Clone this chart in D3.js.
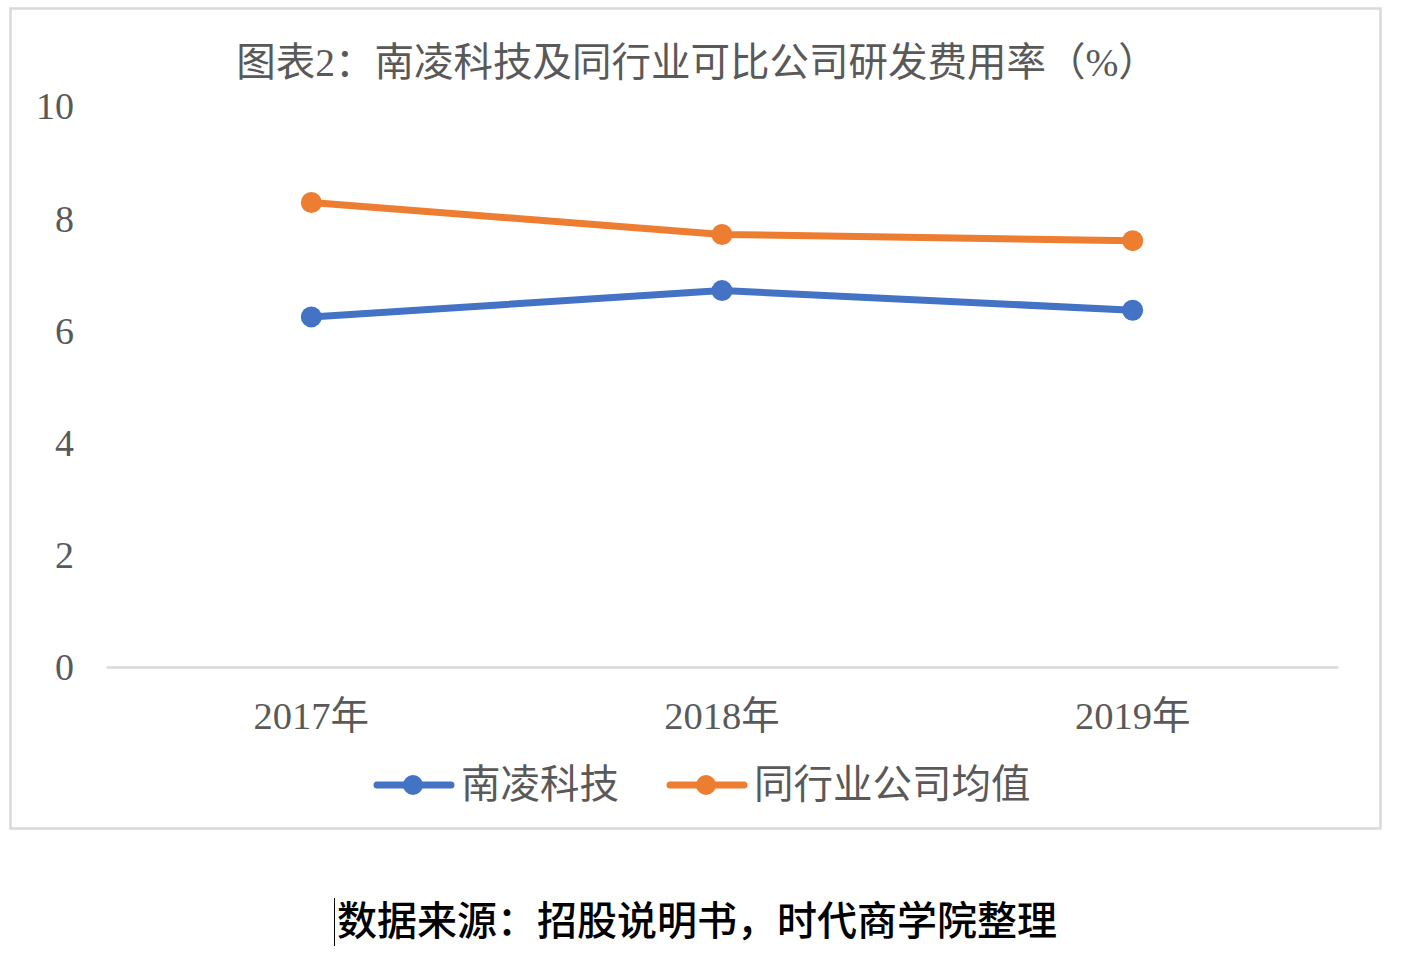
<!DOCTYPE html>
<html>
<head>
<meta charset="utf-8">
<script src="https://cdn.jsdelivr.net/npm/d3@7/dist/d3.min.js"></script>
<style>
  html, body { margin: 0; padding: 0; background: #fff; }
  svg { display: block; }
</style>
</head>
<body>
<svg id="chart" width="1412" height="955"></svg>
<script>
const categories = ["2017年", "2018年", "2019年"];
const seriesNames = ["南凌科技", "同行业公司均值"];
const nanlingValues = [6.24, 6.71, 6.36];
const peerValues = [8.28, 7.71, 7.60];
const yTicks = [0, 2, 4, 6, 8, 10];
const titleText = "图表2：南凌科技及同行业可比公司研发费用率（%）";
const sourceText = "数据来源：招股说明书，时代商学院整理";

const colors = ["#4472C4", "#ED7D31"];
const font = "'Liberation Serif', 'Noto Sans CJK SC', serif";
const textColor = "#595959";

const svg = d3.select("#chart");

// outer chart border
svg.append("rect")
  .attr("x", 10.5).attr("y", 8.5)
  .attr("width", 1370).attr("height", 820)
  .attr("fill", "#fff")
  .attr("stroke", "#d9d9d9").attr("stroke-width", 2.5);

// title
svg.append("text")
  .attr("x", 697).attr("y", 63)
  .attr("text-anchor", "middle").attr("dominant-baseline", "central")
  .attr("font-family", font).attr("font-size", 39.5)
  .attr("fill", textColor)
  .text(titleText);

const x = d3.scaleBand().domain(categories).range([106, 1338]).padding(0);
const y = d3.scaleLinear().domain([0, 10]).range([667, 106]);
const cx = d => x(d) + x.bandwidth() / 2;

// y-axis tick labels (no gridlines)
const yAxis = d3.axisLeft(y).tickValues(yTicks).tickSize(0).tickPadding(0).tickFormat(d3.format("d"));
const yG = svg.append("g").attr("transform", "translate(74,0)").call(yAxis);
yG.select(".domain").remove();
yG.selectAll("text")
  .attr("font-family", font).attr("font-size", 38)
  .attr("fill", textColor).attr("dy", "0.34em");

// x axis baseline
const xAxis = d3.axisBottom(x).tickSize(0).tickPadding(0);
const xG = svg.append("g").attr("transform", `translate(0,${y(0)})`).call(xAxis);
xG.select(".domain").attr("stroke", "#d9d9d9").attr("stroke-width", 2.5);
xG.selectAll("text")
  .attr("font-family", font).attr("font-size", 38.5)
  .attr("fill", textColor).attr("y", 49).attr("dy", "0.34em");

// series
const series = [nanlingValues, peerValues];
const line = d3.line().x((d, i) => cx(categories[i])).y(d => y(d));
series.forEach((vals, si) => {
  svg.append("path")
    .datum(vals)
    .attr("d", line)
    .attr("fill", "none")
    .attr("stroke", colors[si]).attr("stroke-width", 7)
    .attr("stroke-linejoin", "round").attr("stroke-linecap", "round");
  svg.selectAll(null).data(vals).enter().append("circle")
    .attr("cx", (d, i) => cx(categories[i]))
    .attr("cy", d => y(d))
    .attr("r", 10.5)
    .attr("fill", colors[si]);
});

// legend
const legendItems = [
  { name: seriesNames[0], color: colors[0], x0: 377 },
  { name: seriesNames[1], color: colors[1], x0: 670 }
];
const legendY = 785;
legendItems.forEach(it => {
  const g = svg.append("g");
  g.append("line")
    .attr("x1", it.x0).attr("x2", it.x0 + 74)
    .attr("y1", legendY).attr("y2", legendY)
    .attr("stroke", it.color).attr("stroke-width", 7).attr("stroke-linecap", "round");
  g.append("circle")
    .attr("cx", it.x0 + 36).attr("cy", legendY).attr("r", 10)
    .attr("fill", it.color);
  g.append("text")
    .attr("x", it.x0 + 84).attr("y", legendY)
    .attr("dominant-baseline", "central")
    .attr("font-family", font).attr("font-size", 39.5)
    .attr("fill", textColor)
    .text(it.name);
});

// footer source note with text cursor
svg.append("line")
  .attr("x1", 334.5).attr("x2", 334.5).attr("y1", 898).attr("y2", 946)
  .attr("stroke", "#000").attr("stroke-width", 1);
svg.append("text")
  .attr("x", 337).attr("y", 921)
  .attr("dominant-baseline", "central")
  .attr("font-family", font).attr("font-size", 40)
  .attr("font-weight", 500)
  .attr("fill", "#000")
  .text(sourceText);
</script>
</body>
</html>
